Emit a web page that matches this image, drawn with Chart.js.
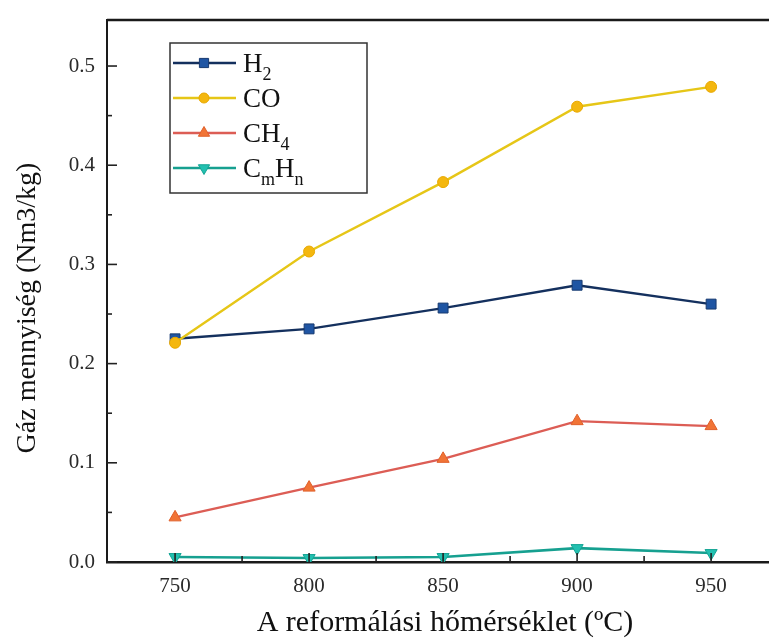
<!DOCTYPE html>
<html><head><meta charset="utf-8">
<script src="https://cdn.jsdelivr.net/npm/chart.js@4.4.1/dist/chart.umd.min.js"></script>
<style>html,body{margin:0;padding:0;background:#fff;overflow:hidden}#wrap{width:769px;height:638px;position:relative}</style>
</head><body><div id="wrap"><canvas id="c" width="769" height="638"></canvas></div>
<script>
const temperatures = [750, 800, 850, 900, 950];
const h2Values = [0.225, 0.235, 0.256, 0.279, 0.260];
const coValues = [0.221, 0.313, 0.383, 0.459, 0.479];
const ch4Values = [0.045, 0.075, 0.104, 0.142, 0.137];
const cmhnValues = [0.005, 0.004, 0.005, 0.014, 0.009];
const seriesLabels = ['H₂', 'CO', 'CH₄', 'CₘHₙ'];
const legendParts = [[['H',0],['2',1]], [['CO',0]], [['CH',0],['4',1]], [['C',0],['m',1],['H',0],['n',1]]];
const xTicks = [750, 800, 850, 900, 950];
const xMinorTicks = [775, 825, 875, 925];
const yTicks = [0, 0.1, 0.2, 0.3, 0.4, 0.5];
const yMinorTicks = [0.05, 0.15, 0.25, 0.35, 0.45];
const xTitle = 'A reformálási hőmérséklet (ºC)';
const yTitle = 'Gáz mennyiség (Nm3/kg)';

const SERIF = "'Liberation Serif', 'Times New Roman', serif";
function pts(vals){ return temperatures.map((t,i)=>({x:t, y:vals[i]})); }

function drawMarker(ctx, style, r, rot, x, y){
  if (Chart.helpers && Chart.helpers.drawPoint) {
    Chart.helpers.drawPoint(ctx, {pointStyle: style, radius: r, rotation: rot, borderWidth: 1}, x, y);
    return;
  }
  ctx.beginPath(); ctx.arc(x, y, r, 0, Math.PI*2); ctx.fill(); ctx.stroke();
}

const decorPlugin = {
  id: 'decor',
  afterDraw(chart){
    const ctx = chart.ctx;
    const xs = chart.scales.x, ys = chart.scales.y;
    const a = chart.chartArea;
    ctx.save();
    // top frame
    ctx.strokeStyle = '#1a1a1a'; ctx.lineWidth = 2.5;
    ctx.beginPath(); ctx.moveTo(a.left, a.top); ctx.lineTo(a.right, a.top); ctx.stroke();
    // inward ticks
    ctx.lineWidth = 1.6; ctx.strokeStyle = '#222';
    xTicks.forEach(v=>{ const p = xs.getPixelForValue(v); ctx.beginPath(); ctx.moveTo(p, a.bottom); ctx.lineTo(p, a.bottom-9); ctx.stroke(); });
    xMinorTicks.forEach(v=>{ const p = xs.getPixelForValue(v); ctx.beginPath(); ctx.moveTo(p, a.bottom); ctx.lineTo(p, a.bottom-6); ctx.stroke(); });
    yTicks.forEach(v=>{ const p = ys.getPixelForValue(v); ctx.beginPath(); ctx.moveTo(a.left, p); ctx.lineTo(a.left+10, p); ctx.stroke(); });
    yMinorTicks.forEach(v=>{ const p = ys.getPixelForValue(v); ctx.beginPath(); ctx.moveTo(a.left, p); ctx.lineTo(a.left+5, p); ctx.stroke(); });
    // axis titles
    ctx.fillStyle = '#111';
    ctx.font = '30px ' + SERIF;
    ctx.textAlign = 'center'; ctx.textBaseline = 'alphabetic';
    ctx.fillText(xTitle, 445, 631);
    ctx.save();
    ctx.translate(28, 308); ctx.rotate(-Math.PI/2);
    ctx.font = '28px ' + SERIF; ctx.textBaseline = 'middle';
    ctx.fillText(yTitle, 0, 0);
    ctx.restore();
    // legend
    const bx = 170, by = 43, bw = 197, bh = 150;
    ctx.fillStyle = '#fff'; ctx.fillRect(bx, by, bw, bh);
    ctx.strokeStyle = '#333'; ctx.lineWidth = 1.5; ctx.strokeRect(bx, by, bw, bh);
    chart.data.datasets.forEach((ds, i)=>{
      const y = 63 + i*35;
      ctx.strokeStyle = ds.borderColor; ctx.lineWidth = 2.5;
      ctx.beginPath(); ctx.moveTo(173, y); ctx.lineTo(236, y); ctx.stroke();
      ctx.fillStyle = ds.pointBackgroundColor; ctx.strokeStyle = ds.pointBorderColor; ctx.lineWidth = 1;
      drawMarker(ctx, ds.pointStyle, ds.pointRadius - 0.5, ds.pointRotation || 0, 204, y);
      let tx = 243;
      ctx.fillStyle = '#111'; ctx.textAlign = 'left'; ctx.textBaseline = 'alphabetic';
      legendParts[i].forEach(([t, sub])=>{
        ctx.font = (sub ? '18px ' : '27px ') + SERIF;
        ctx.fillText(t, tx, sub ? y + 17 : y + 9);
        tx += ctx.measureText(t).width;
      });
    });
    ctx.restore();
  }
};

new Chart(document.getElementById('c'), {
  type: 'line',
  data: {
    datasets: [
      {label: seriesLabels[0], data: pts(h2Values), borderColor: '#14305e', borderWidth: 2.4,
       pointStyle: 'rect', pointRadius: 7, pointBackgroundColor: '#1f55a3', pointBorderColor: '#173a70', pointBorderWidth: 1, order: 2},
      {label: seriesLabels[1], data: pts(coValues), borderColor: '#e6c617', borderWidth: 2.4,
       pointStyle: 'circle', pointRadius: 5.5, pointBackgroundColor: '#f4b70f', pointBorderColor: '#e8a800', pointBorderWidth: 1, order: 1},
      {label: seriesLabels[2], data: pts(ch4Values), borderColor: '#dc5d55', borderWidth: 2.4,
       pointStyle: 'triangle', pointRadius: 7, pointBackgroundColor: '#f17436', pointBorderColor: '#e0602a', pointBorderWidth: 1, order: 3},
      {label: seriesLabels[3], data: pts(cmhnValues), borderColor: '#16a090', borderWidth: 2.6,
       pointStyle: 'triangle', pointRotation: 180, pointRadius: 7, pointBackgroundColor: '#22c0b0', pointBorderColor: '#15a595', pointBorderWidth: 1, order: 4}
    ]
  },
  options: {
    responsive: false, animation: false, devicePixelRatio: 1,
    layout: {autoPadding: false, padding: {top: 20, right: 0, bottom: 0, left: 0}},
    plugins: {legend: {display: false}, tooltip: {enabled: false}, title: {display: false}},
    elements: {line: {tension: 0}},
    scales: {
      x: {
        type: 'linear', min: 724.6, max: 971.6,
        afterBuildTicks: s => { s.ticks = xTicks.map(v=>({value: v})); },
        afterFit: s => { s.height = 76; s.paddingLeft = 0; s.paddingRight = 0; },
        grid: {display: false, drawTicks: false},
        border: {display: true, color: '#1a1a1a', width: 2.5},
        ticks: {padding: 12, color: '#2a2a2a', font: {family: SERIF, size: 21}, callback: v => String(v)}
      },
      y: {
        type: 'linear', min: 0, max: 0.5464,
        afterBuildTicks: s => { s.ticks = yTicks.map(v=>({value: v})); },
        afterFit: s => { s.width = 107; s.paddingTop = 0; s.paddingBottom = 0; },
        grid: {display: false, drawTicks: false},
        border: {display: true, color: '#1a1a1a', width: 2},
        ticks: {padding: 12, color: '#2a2a2a', font: {family: SERIF, size: 21}, callback: v => Number(v).toFixed(1)}
      }
    }
  },
  plugins: [decorPlugin]
});
</script></body></html>
